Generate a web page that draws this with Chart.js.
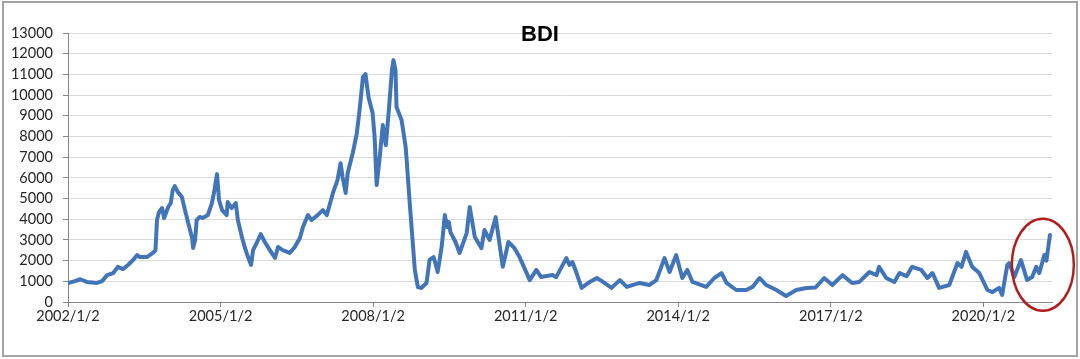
<!DOCTYPE html>
<html>
<head>
<meta charset="utf-8">
<title>BDI</title>
<script src="https://cdn.jsdelivr.net/npm/chart.js@4.4.1/dist/chart.umd.min.js"></script>
<style>
    body { margin: 0; background: #ffffff; }
    #wrap { position: relative; width: 1080px; height: 359px; }
    #frame {
        position: absolute; left: 2px; top: 1px; width: 1072px; height: 352px;
        border: 2px solid #a3a3a3; pointer-events: none;
    }
</style>
</head>
<body>
<div id="wrap">
    <canvas id="bdi-chart" width="1080" height="359"></canvas>
    <div id="frame"></div>
</div>
<script>
const chartTitle = 'BDI';

// dates as decimal years
const years = [
    2002.00, 2002.12, 2002.24, 2002.37, 2002.57, 2002.67, 2002.77, 2002.89, 2002.98, 2003.08,
    2003.18, 2003.28, 2003.36, 2003.41, 2003.55, 2003.67, 2003.72, 2003.75, 2003.79, 2003.85,
    2003.89, 2003.97, 2004.02, 2004.06, 2004.10, 2004.16, 2004.24, 2004.30, 2004.36, 2004.44,
    2004.46, 2004.50, 2004.53, 2004.59, 2004.65, 2004.75, 2004.83, 2004.87, 2004.93, 2004.97,
    2005.03, 2005.12, 2005.14, 2005.22, 2005.30, 2005.34, 2005.42, 2005.48, 2005.54, 2005.60,
    2005.64, 2005.71, 2005.79, 2005.87, 2005.97, 2006.07, 2006.13, 2006.22, 2006.36, 2006.46,
    2006.56, 2006.62, 2006.72, 2006.79, 2006.91, 2007.01, 2007.09, 2007.21, 2007.30, 2007.36,
    2007.40, 2007.46, 2007.50, 2007.60, 2007.68, 2007.74, 2007.80, 2007.85, 2007.91, 2007.99,
    2008.03, 2008.07, 2008.13, 2008.19, 2008.25, 2008.31, 2008.37, 2008.40, 2008.44, 2008.46,
    2008.56, 2008.64, 2008.66, 2008.72, 2008.78, 2008.82, 2008.88, 2008.95, 2009.05, 2009.11,
    2009.19, 2009.27, 2009.35, 2009.41, 2009.46, 2009.49, 2009.52, 2009.62, 2009.70, 2009.84,
    2009.90, 2010.00, 2010.13, 2010.19, 2010.29, 2010.41, 2010.55, 2010.66, 2010.78, 2010.88,
    2011.08, 2011.21, 2011.30, 2011.53, 2011.60, 2011.80, 2011.86, 2011.92, 2012.00, 2012.10,
    2012.26, 2012.40, 2012.52, 2012.69, 2012.85, 2012.99, 2013.24, 2013.43, 2013.57, 2013.73,
    2013.83, 2013.96, 2014.08, 2014.18, 2014.28, 2014.55, 2014.71, 2014.85, 2014.95, 2015.14,
    2015.34, 2015.46, 2015.60, 2015.73, 2015.93, 2016.12, 2016.32, 2016.52, 2016.70, 2016.87,
    2017.03, 2017.23, 2017.42, 2017.56, 2017.76, 2017.90, 2017.95, 2018.09, 2018.25, 2018.35,
    2018.49, 2018.60, 2018.78, 2018.90, 2019.00, 2019.13, 2019.33, 2019.49, 2019.57, 2019.66,
    2019.78, 2019.92, 2020.08, 2020.18, 2020.31, 2020.37, 2020.47, 2020.51, 2020.61, 2020.74,
    2020.86, 2020.96, 2021.04, 2021.10, 2021.20, 2021.24, 2021.31
];
const bdiValues = [
    920, 1000, 1100, 970, 920, 1010, 1300, 1400, 1700, 1590,
    1790, 2030, 2270, 2170, 2170, 2370, 2500, 3960, 4350, 4540,
    4060, 4590, 4780, 5410, 5600, 5310, 5070, 4440, 3860, 3090,
    2610, 3000, 3960, 4110, 4060, 4200, 4780, 5270, 6180, 4930,
    4440, 4200, 4830, 4540, 4780, 3960, 3140, 2610, 2170, 1790,
    2510, 2850, 3280, 2900, 2510, 2130, 2660, 2510, 2370, 2660,
    3090, 3620, 4200, 3960, 4200, 4440, 4200, 5270, 5890, 6710,
    6040, 5270, 6230, 7200, 8160, 9420, 10870, 11010, 9900, 9130,
    7970, 5650, 7000, 8550, 7580, 9280, 11210, 11690, 11210, 9420,
    8790, 7490, 6860, 4780, 2850, 1550, 720, 680, 920, 2030,
    2170, 1450, 2700, 4200, 3620, 3860, 3380, 2900, 2370, 3330,
    4590, 3140, 2600, 3480, 3000, 4100, 1700, 2900, 2600, 2170,
    1060, 1550, 1210, 1300, 1200, 2120, 1790, 1930, 1400, 680,
    970, 1160, 970, 680, 1060, 730, 920, 820, 1060, 2120,
    1450, 2270, 1160, 1550, 970, 730, 1160, 1400, 920, 580,
    580, 730, 1160, 820, 580, 290, 580, 680, 700, 1160,
    820, 1300, 920, 970, 1450, 1300, 1700, 1160, 970, 1400,
    1250, 1700, 1550, 1160, 1400, 680, 820, 1880, 1700, 2420,
    1700, 1400, 580, 480, 680, 340, 1790, 1880, 1210, 2030,
    1060, 1210, 1700, 1400, 2270, 2000, 3240
];

const xTickYears = [2002, 2005, 2008, 2011, 2014, 2017, 2020];
const xMin = 2002;
const xMax = 2021.35;
const yMax = 13000;
const yStep = 1000;

// circled region at the end of the series (data space)
const circleCenter = { x: 2021.17, y: 1800 };

const fontFamily = 'Lato, "Open Sans", sans-serif';

const titlePlugin = {
    id: 'bdiTitle',
    afterDraw(chart) {
        const ctx = chart.ctx;
        ctx.save();
        ctx.font = 'bold 22px "Liberation Sans", Arial, sans-serif';
        ctx.fillStyle = '#000000';
        ctx.textAlign = 'center';
        ctx.textBaseline = 'middle';
        ctx.fillText(chartTitle, chart.width / 2, 35);
        ctx.restore();
    }
};

const circlePlugin = {
    id: 'bdiCircle',
    afterDraw(chart) {
        const ctx = chart.ctx;
        const cx = chart.scales.x.getPixelForValue(circleCenter.x);
        const cy = chart.scales.y.getPixelForValue(circleCenter.y);
        ctx.save();
        ctx.strokeStyle = '#b01e1e';
        ctx.lineWidth = 2.5;
        ctx.beginPath();
        ctx.ellipse(cx, cy, 31, 46, 0, 0, Math.PI * 2);
        ctx.stroke();
        ctx.restore();
    }
};

function createChart() {
    const ctx = document.getElementById('bdi-chart').getContext('2d');
    const points = years.map((yr, i) => ({ x: yr, y: bdiValues[i] }));

    return new Chart(ctx, {
        type: 'line',
        data: {
            datasets: [{
                label: chartTitle,
                data: points,
                borderColor: '#4275b8',
                borderWidth: 4,
                borderJoinStyle: 'round',
                borderCapStyle: 'round',
                pointRadius: 0,
                tension: 0,
                fill: false
            }]
        },
        options: {
            responsive: false,
            animation: false,
            devicePixelRatio: 1,
            layout: { padding: { top: 33, right: 28, left: 0, bottom: 0 } },
            plugins: {
                legend: { display: false },
                title: { display: false },
                tooltip: { enabled: false }
            },
            scales: {
                x: {
                    type: 'linear',
                    min: xMin,
                    max: xMax,
                    afterBuildTicks: scale => {
                        scale.ticks = xTickYears.map(v => ({ value: v }));
                    },
                    afterFit: scale => { scale.height = 57; },
                    ticks: {
                        autoSkip: false,
                        maxRotation: 0,
                        padding: 1,
                        color: '#262626',
                        font: { family: fontFamily, size: 14.5 },
                        callback: v => `${v}/1/2`
                    },
                    grid: {
                        drawOnChartArea: false,
                        drawTicks: true,
                        tickLength: 5,
                        color: '#868686'
                    },
                    border: { color: '#868686', width: 1 }
                },
                y: {
                    min: 0,
                    max: yMax,
                    afterFit: scale => { scale.width = 68; },
                    ticks: {
                        stepSize: yStep,
                        padding: 10,
                        color: '#262626',
                        font: { family: fontFamily, size: 14.5 },
                        callback: v => String(v)
                    },
                    grid: {
                        color: '#d9d9d9',
                        tickColor: '#868686',
                        tickLength: 5
                    },
                    border: { color: '#868686', width: 1 }
                }
            }
        },
        plugins: [titlePlugin, circlePlugin]
    });
}

window.addEventListener('load', () => {
    createChart();
});
</script>
</body>
</html>
